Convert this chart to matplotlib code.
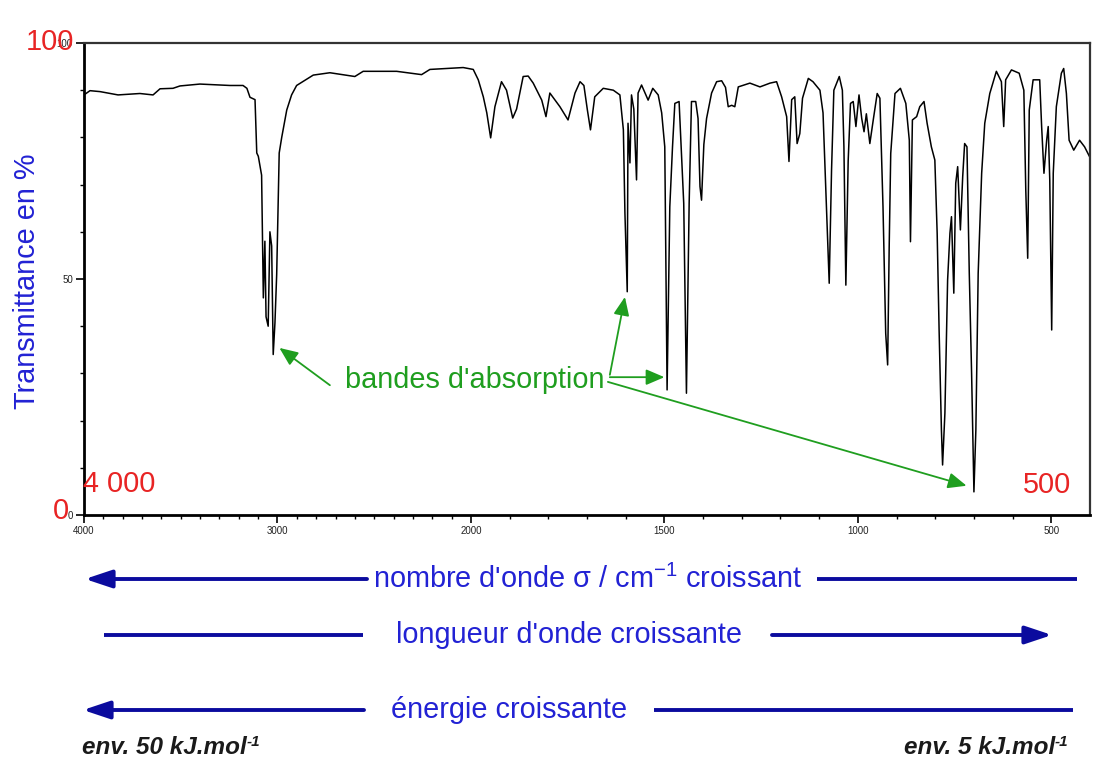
"""IR spectrum with wavenumber / wavelength / energy arrows."""

import matplotlib

matplotlib.use("Agg")
import matplotlib.pyplot as plt
import numpy as np
from matplotlib.lines import Line2D

plt.rcParams["font.family"] = ["Liberation Sans", "DejaVu Sans"]
plt.rcParams["mathtext.fontset"] = "custom"
plt.rcParams["mathtext.rm"] = "Liberation Sans"
plt.rcParams["mathtext.default"] = "regular"

# spectrum (wavenumber in cm-1, transmittance in %)
sigma = [
    4000, 3969, 3917, 3824, 3711, 3643, 3607, 3540, 3504, 3401, 3245, 3178, 3158,
    3142, 3116, 3107, 3099, 3082, 3073, 3065, 3059, 3048, 3039, 3030, 3022, 3013,
    3004, 2991, 2978, 2952, 2927, 2901, 2815, 2729, 2600, 2557, 2384, 2255, 2212,
    2040, 1994, 1981, 1968, 1959, 1949, 1938, 1921, 1908, 1892, 1882, 1865, 1852,
    1839, 1817, 1806, 1796, 1770, 1749, 1731, 1718, 1708, 1699, 1691, 1680, 1658,
    1632, 1615, 1606, 1602, 1596, 1594, 1589, 1585, 1579, 1572, 1568, 1559, 1548,
    1542, 1530, 1516, 1507, 1499, 1493, 1486, 1479, 1473, 1462, 1456, 1450, 1443,
    1436, 1430, 1419, 1413, 1408, 1404, 1398, 1391, 1378, 1365, 1352, 1342, 1335,
    1326, 1318, 1309, 1279, 1253, 1227, 1210, 1197, 1184, 1178, 1171, 1163, 1157,
    1150, 1143, 1128, 1116, 1098, 1090, 1077, 1074, 1068, 1062, 1048, 1040, 1036,
    1031, 1025, 1019, 1012, 1005, 997, 990, 984, 978, 969, 960, 950, 943, 935, 928,
    923, 919, 915, 904, 890, 876, 867, 864, 859, 848, 840, 829, 821, 810, 801, 795,
    790, 784, 781, 775, 768, 762, 758, 752, 747, 742, 735, 729, 724, 718, 712, 706,
    700, 695, 689, 680, 672, 659, 642, 629, 623, 618, 603, 583, 571, 566, 561, 557,
    547, 530, 525, 519, 512, 508, 504, 499, 495, 487, 474, 468, 461, 454, 442, 427,
    414, 401,
]
transmittance = [
    89.0, 89.9, 89.7, 89.0, 89.3, 89.0, 90.3, 90.4, 90.9, 91.3, 91.0, 91.0, 90.4,
    88.5, 88.0, 76.7, 76.0, 72.0, 46.0, 58.0, 42.0, 40.0, 60.0, 57.0, 34.0, 40.7,
    51.0, 76.7, 80.0, 85.8, 89.0, 91.0, 93.2, 93.7, 92.9, 94.0, 94.0, 93.3, 94.4,
    94.8, 94.4, 92.2, 88.6, 85.2, 79.9, 86.5, 91.8, 90.0, 84.1, 86.0, 92.9, 93.0,
    91.5, 87.9, 84.4, 89.4, 86.5, 83.7, 89.4, 91.8, 91.0, 85.8, 81.6, 88.6, 90.4,
    90.0, 89.0, 81.6, 64.0, 47.3, 83.0, 74.6, 89.0, 86.0, 71.0, 89.4, 91.1, 89.0,
    87.9, 90.4, 89.0, 85.2, 78.0, 26.5, 65.3, 78.0, 87.2, 87.6, 76.7, 66.0, 25.8,
    66.0, 87.6, 87.6, 84.0, 69.6, 66.7, 78.5, 84.0, 89.4, 91.8, 92.0, 90.6, 86.5,
    86.8, 86.5, 90.7, 91.5, 90.7, 91.5, 91.8, 88.6, 84.4, 74.9, 88.0, 88.6, 78.7,
    80.8, 88.3, 92.5, 91.8, 90.0, 85.2, 55.4, 49.1, 73.0, 90.0, 92.9, 90.0, 78.0,
    48.7, 75.0, 87.2, 87.6, 82.3, 89.0, 84.0, 81.2, 85.0, 78.7, 83.8, 89.3, 88.3,
    65.3, 38.5, 31.8, 56.8, 76.6, 89.3, 90.4, 87.2, 79.4, 57.9, 83.7, 84.4, 86.5,
    87.6, 83.0, 78.0, 75.2, 59.7, 39.2, 18.0, 10.6, 21.6, 49.8, 59.7, 63.2, 47.0,
    70.3, 73.8, 60.4, 71.7, 78.7, 78.0, 51.2, 30.0, 4.9, 18.0, 51.2, 72.4, 83.0,
    89.3, 94.0, 91.8, 82.3, 92.2, 94.3, 93.6, 90.0, 68.9, 54.4, 85.8, 92.2, 92.2,
    82.3, 72.4, 79.4, 82.3, 71.0, 39.2, 72.4, 86.5, 93.6, 94.6, 89.3, 79.4, 77.3,
    79.4, 78.0, 75.9,
]

x_major = [4000, 3000, 2000, 1500, 1000, 500]
x_major_labels = ["4000", "3000", "2000", "1500", "1000", "500"]
y_major = [0, 50, 100]

# (tail sigma, tail T, tip sigma, tip T) for the green arrows
band_arrows = [
    (2729, 27.5, 2990, 35.4),
    (1641, 29.7, 1602, 46.2),
    (1641, 29.2, 1500, 29.2),
    (1646, 28.2, 719, 6.2),
]

W, H = 1117, 783
BLUE_TXT = "#2222d4"
NAVY = "#0b0b9e"
RED = "#e82424"
GREEN = "#1f9e1f"
FS = 20.8


def fx(px):
    return px / W


def fy(py):
    return 1 - py / H


def fwd(s):
    s = np.asarray(s, dtype=float)
    return np.where(s >= 2000, 1 + (s - 2000) / 2000, s / 1000 - 1)


def inv(g):
    g = np.asarray(g, dtype=float)
    return np.where(g >= 1, 2000 + (g - 1) * 2000, (g + 1) * 1000)


fig = plt.figure(figsize=(W / 100, H / 100), dpi=100)
ax = fig.add_axes([fx(84), fy(515), fx(1090) - fx(84), fy(43) - fy(515)])
ax.set_xscale("function", functions=(fwd, inv))
ax.set_xlim(4000, 400)
ax.set_ylim(0, 100)

ax.plot(sigma, transmittance, color="black", lw=1.1)

ax.set_xticks(x_major)
ax.set_xticklabels(x_major_labels)
ax.set_xticks([s for s in range(3900, 400, -100) if s not in x_major], minor=True)
ax.set_yticks(y_major)
ax.set_yticks(range(10, 100, 10), minor=True)
ax.tick_params(axis="both", which="major", length=6, width=1.2, labelsize=7,
               labelcolor="#222222", pad=2)
ax.tick_params(axis="both", which="minor", length=3, width=1.0)
for side in ["left", "bottom"]:
    ax.spines[side].set_linewidth(2.0)
for side in ["top", "right"]:
    ax.spines[side].set_linewidth(1.6)
    ax.spines[side].set_color("#333333")

# green annotation
ax.text(1990, 28.6, "bandes d'absorption", color=GREEN, fontsize=FS,
        ha="center", va="center")
for s0, t0, s1, t1 in band_arrows:
    ax.annotate("", xy=(s1, t1), xytext=(s0, t0),
                arrowprops=dict(arrowstyle="-|>,head_length=0.7,head_width=0.3",
                                color=GREEN, lw=1.3, mutation_scale=16,
                                shrinkA=0, shrinkB=0))

# red labels
fig.text(fx(50), fy(42), "100", color=RED, fontsize=FS, ha="center", va="center")
fig.text(fx(61), fy(511), "0", color=RED, fontsize=FS, ha="center", va="center")
fig.text(fx(83), fy(484), "4 000", color=RED, fontsize=FS, ha="left", va="center")
fig.text(fx(1071), fy(485), "500", color=RED, fontsize=FS, ha="right", va="center")

fig.text(fx(27), fy(281), "Transmittance en %", color=BLUE_TXT, fontsize=FS,
         rotation=90, ha="center", va="center")


def arrow(x0, x1, y):
    ax.annotate("", xy=(fx(x1), fy(y)), xytext=(fx(x0), fy(y)),
                xycoords="figure fraction", textcoords="figure fraction",
                annotation_clip=False,
                arrowprops=dict(arrowstyle="-|>,head_length=0.9,head_width=0.3",
                                color=NAVY, lw=2.8, mutation_scale=18,
                                shrinkA=0, shrinkB=0))


def line(x0, x1, y):
    fig.add_artist(Line2D([fx(x0), fx(x1)], [fy(y), fy(y)], color=NAVY, lw=2.8,
                          transform=fig.transFigure, solid_capstyle="butt"))


arrow(367, 85, 579)
fig.text(fx(588), fy(579), "nombre d'onde σ / cm$^{-1}$ croissant", color=BLUE_TXT,
         fontsize=FS, ha="center", va="center")
line(817, 1077, 579)

line(104, 363, 635)
fig.text(fx(569), fy(635), "longueur d'onde croissante", color=BLUE_TXT,
         fontsize=FS, ha="center", va="center")
arrow(772, 1052, 635)

arrow(364, 83, 710)
fig.text(fx(509), fy(710), "énergie croissante", color=BLUE_TXT,
         fontsize=FS, ha="center", va="center")
line(654, 1073, 710)

t_left = fig.text(fx(82), fy(747), "env. 50 kJ.mol", color="#1a1a1a", fontsize=17.5,
                  fontweight="bold", fontstyle="italic", ha="left", va="center")
ax.annotate("-1", xy=(1.0, 1.0), xycoords=t_left, ha="left", va="top",
            fontsize=11, fontweight="bold", fontstyle="italic", color="#1a1a1a",
            annotation_clip=False)
t_right = fig.text(fx(1055), fy(747), "env. 5 kJ.mol", color="#1a1a1a", fontsize=17.5,
                   fontweight="bold", fontstyle="italic", ha="right", va="center")
ax.annotate("-1", xy=(1.0, 1.0), xycoords=t_right, ha="left", va="top",
            fontsize=11, fontweight="bold", fontstyle="italic", color="#1a1a1a",
            annotation_clip=False)

fig.savefig("out.png", dpi=100)
